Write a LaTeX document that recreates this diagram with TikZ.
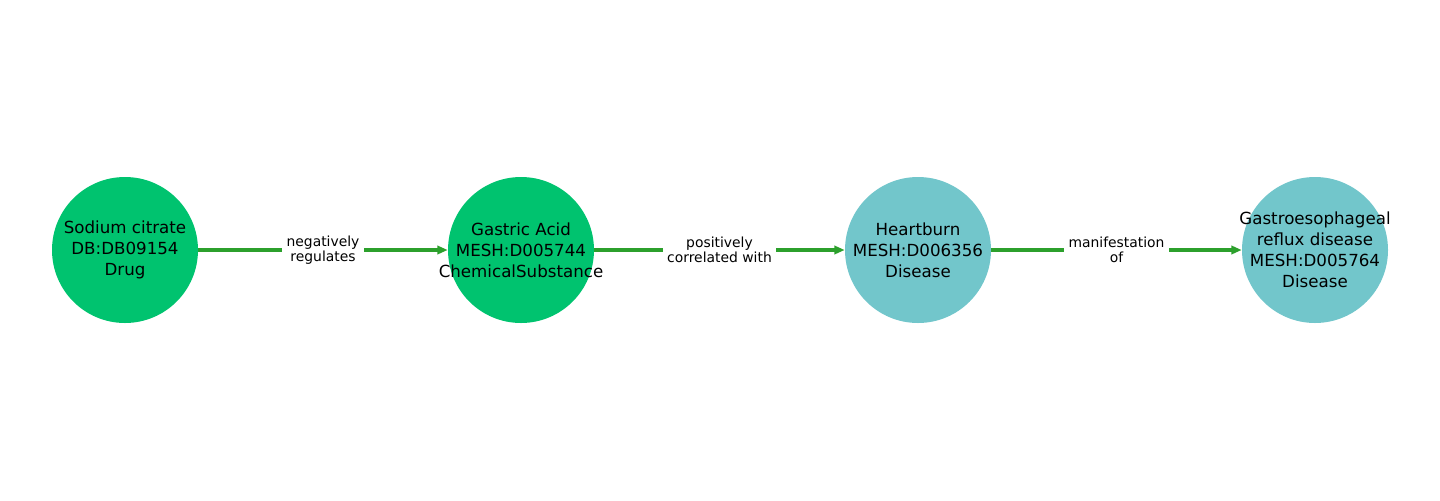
\documentclass[tikz,border=0pt]{standalone}
\usepackage{fontspec}
\setmainfont{DejaVu Sans}
\usetikzlibrary{arrows.meta}
\definecolor{drugc}{HTML}{00C36F}
\definecolor{disc}{HTML}{72C6CB}
\definecolor{edgec}{HTML}{2CA02C}
\tikzset{
  ent/.style={circle, minimum size=146*0.72pt, inner sep=0pt, draw=none},
  chem/.style={ent, fill=drugc},
  dis/.style={ent, fill=disc},
  ntxt/.style={inner sep=0pt, align=center, font=\fontsize{12}{15}\selectfont, text=black},
  rel/.style={draw=edgec, line width=2.2pt, -{Triangle[length=7.5pt,width=6pt]}},
  rlab/.style={fill=white, inner sep=3pt, align=center, font=\fontsize{10}{11}\selectfont, text=black}
}
\begin{document}
\begin{tikzpicture}[x=0.72pt,y=-0.72pt]
\useasboundingbox (0,0) rectangle (1440,500);
\node[chem] (a) at (125,250) {};
\node[chem] (b) at (521,250) {};
\node[dis] (c) at (918,250) {};
\node[dis] (d) at (1315,250) {};
\draw[rel] (a) -- node[rlab] (la) {negatively\\regulates} (b);
\draw[rel] (b) -- node[rlab] (lb) {positively\\correlated with} (c);
\draw[rel] (c) -- node[rlab] (lc) {manifestation\\of} (d);
\node[ntxt] (ta) at (a) {Sodium citrate\\DB:DB09154\\Drug};
\node[ntxt] (tb) at (b) {Gastric Acid\\MESH:D005744\\ChemicalSubstance};
\node[ntxt] (tc) at (c) {Heartburn\\MESH:D006356\\Disease};
\node[ntxt] (td) at (d) {Gastroesophageal\\reflux disease\\MESH:D005764\\Disease};
\end{tikzpicture}
\end{document}
